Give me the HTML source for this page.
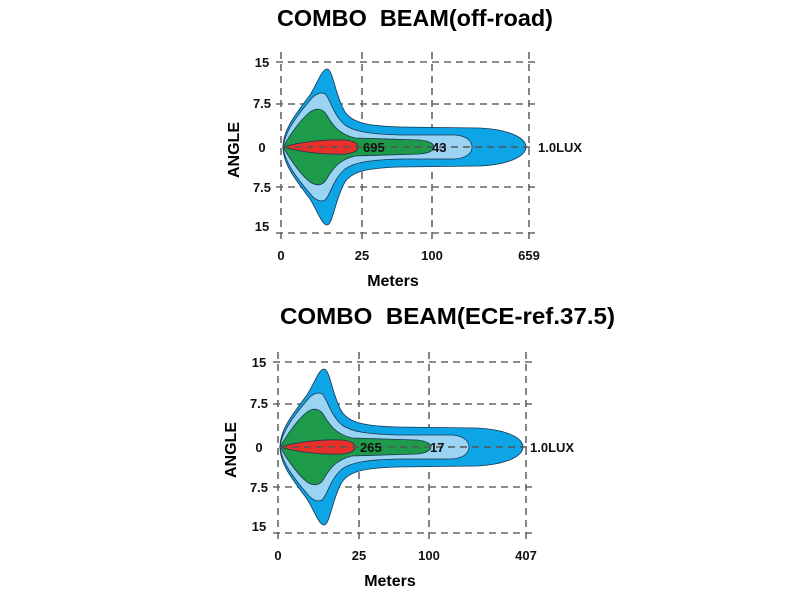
<!DOCTYPE html>
<html><head><meta charset="utf-8"><style>body{margin:0;background:#fff}svg{display:block}</style></head><body>
<svg width="800" height="600" viewBox="0 0 800 600" xmlns="http://www.w3.org/2000/svg" font-family="Liberation Sans, Arial, sans-serif" font-weight="bold">
<defs>
<g id="chart">
  <g stroke="#666" stroke-width="1.6" stroke-dasharray="7,5" fill="none">
    <line x1="281" y1="52" x2="281" y2="242"/>
    <line x1="362" y1="52" x2="362" y2="242"/>
    <line x1="432" y1="52" x2="432" y2="242"/>
    <line x1="529" y1="52" x2="529" y2="242"/>
    <line x1="276" y1="62" x2="535" y2="62"/>
    <line x1="276" y1="104" x2="535" y2="104"/>
    <line x1="276" y1="187" x2="535" y2="187"/>
    <line x1="276" y1="233" x2="535" y2="233"/>
  </g>
  <path fill="#0ea5e6" stroke="#1a3550" stroke-width="0.8" d="M283,147 C283,130 295,115 310,95 C318,82 322,69 327,69 C333,69 335,95 345,112 C352,122 365,126 400,127 L480,128 C515,130 526,140 526,147 C526,154 515,164 480,166 L400,167 C365,168 352,172 345,182 C335,199 333,225 327,225 C322,225 318,212 310,199 C295,179 283,164 283,147Z"/>
  <path fill="#9ad4f2" stroke="#1a3550" stroke-width="0.8" d="M283,147 C285,130 300,112 312,98 C317,93 322,92 325,94 C330,98 333,115 345,125 C355,132 370,134 400,135 L455,135 C468,136 472,142 472,147 C472,152 468,158 455,159 L400,159 C370,160 355,162 345,169 C333,179 330,196 325,200 C322,202 317,201 312,196 C300,182 285,164 283,147Z"/>
  <path fill="#1d9a4a" stroke="#1a3550" stroke-width="0.8" d="M283,147 C290,135 300,120 310,112 C316,108 322,108 326,114 C332,124 338,134 355,138 L420,140 C430,141 434,144 434,147 C434,150 430,153 420,154 L355,156 C338,160 332,170 326,180 C322,186 316,186 310,182 C300,174 290,159 283,147Z"/>
  <path fill="#e8302a" stroke="#1a3550" stroke-width="0.8" d="M283,147 C300,142 325,139 345,140 C355,141 358,144 358,147 C358,150 355,153 345,154 C325,155 300,152 283,147Z"/>
  <line x1="283" y1="147" x2="535" y2="147" stroke="#555" stroke-width="1.4" stroke-dasharray="7,5"/>
  <g font-size="13" fill="#111">
    <text x="262" y="67" text-anchor="middle">15</text>
    <text x="262" y="108" text-anchor="middle">7.5</text>
    <text x="262" y="152" text-anchor="middle">0</text>
    <text x="262" y="192" text-anchor="middle">7.5</text>
    <text x="262" y="231" text-anchor="middle">15</text>
    <text x="281" y="260" text-anchor="middle">0</text>
    <text x="362" y="260" text-anchor="middle">25</text>
    <text x="432" y="260" text-anchor="middle">100</text>
  </g>
  <text x="239" y="150" font-size="16" text-anchor="middle" transform="rotate(-90 239 150)">ANGLE</text>
  <text x="393" y="286" font-size="16" text-anchor="middle">Meters</text>
</g>
</defs>
<text x="277" y="26" font-size="23" fill="#000" textLength="276" lengthAdjust="spacingAndGlyphs" xml:space="preserve">COMBO  BEAM(off-road)</text>
<use href="#chart"/>
<g font-size="13" fill="#111">
<text x="363" y="152">695</text><text x="432" y="152">43</text>
<text x="538" y="152">1.0LUX</text>
<text x="529" y="260" text-anchor="middle">659</text>
</g>
<text x="280" y="324" font-size="23" fill="#000" textLength="335" lengthAdjust="spacingAndGlyphs" xml:space="preserve">COMBO  BEAM(ECE-ref.37.5)</text>
<g transform="translate(-3,300)">
<use href="#chart"/>
<g font-size="13" fill="#111">
<text x="363" y="152">265</text><text x="433" y="152">17</text>
<text x="533" y="152">1.0LUX</text>
<text x="529" y="260" text-anchor="middle">407</text>
</g>
</g>
</svg>
</body></html>
